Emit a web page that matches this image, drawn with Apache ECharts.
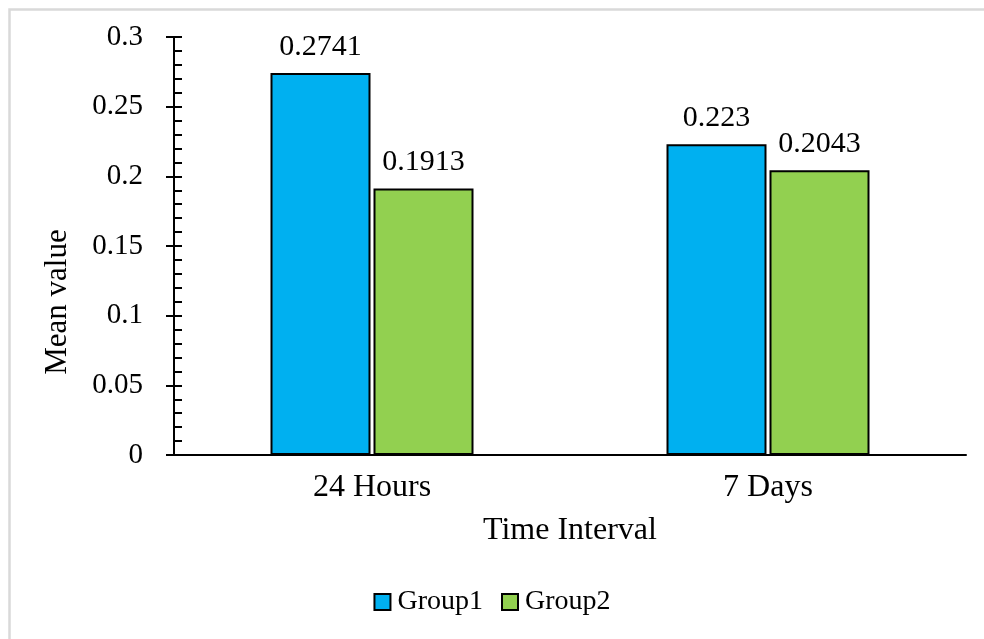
<!DOCTYPE html>
<html>
<head>
<meta charset="utf-8">
<style>
  html, body { margin: 0; padding: 0; background: #ffffff; }
  #chart { width: 984px; height: 639px; }
</style>
<script src="https://cdn.jsdelivr.net/npm/echarts@6/dist/echarts.min.js"></script>
</head>
<body>
<div id="chart"></div>
<script>
// Categories and mean values per group
const categories = ['24 Hours', '7 Days'];
const group1 = [0.2741, 0.223];
const group2 = [0.1913, 0.2043];
const seriesNames = ['Group1', 'Group2'];

const FONT = '"Liberation Serif", "Times New Roman", serif';
const TXT = '#000000';

const chart = echarts.init(document.getElementById('chart'));

const yCommon = {
  type: 'value',
  min: 0,
  max: 0.3,
  interval: 0.05,
  splitLine: { show: false }
};

const barLabel = {
  show: true,
  position: 'top',
  distance: 11,
  color: TXT,
  fontFamily: FONT,
  fontSize: 30
};

chart.setOption({
  backgroundColor: '#ffffff',
  animation: false,
  graphic: [{
    type: 'rect',
    shape: { x: 9.5, y: 9.5, width: 1200, height: 900 },
    style: { fill: 'none', stroke: '#d9d9d9', lineWidth: 2.5 },
    silent: true,
    z: -10
  }],
  grid: { left: 174, right: 18, top: 37, bottom: 184, containLabel: false },
  legend: {
    data: seriesNames,
    bottom: 18,
    left: 'center',
    itemWidth: 16,
    itemHeight: 16,
    itemGap: 18,
    icon: 'rect',
    textStyle: { color: TXT, fontFamily: FONT, fontSize: 28, padding: [0, 0, 0, 2] }
  },
  xAxis: {
    type: 'category',
    data: categories,
    name: 'Time Interval',
    nameLocation: 'middle',
    nameGap: 60,
    nameTextStyle: { color: TXT, fontFamily: FONT, fontSize: 32 },
    axisLine: { lineStyle: { color: '#000', width: 2 } },
    axisTick: { show: false },
    axisLabel: { color: TXT, fontFamily: FONT, fontSize: 32, margin: 17 }
  },
  yAxis: [
    Object.assign({}, yCommon, {
      name: 'Mean value',
      nameLocation: 'middle',
      nameGap: 101,
      nameTextStyle: { color: TXT, fontFamily: FONT, fontSize: 31, padding: [0, 112, 0, 0] },
      axisLine: { show: true, lineStyle: { color: '#000', width: 2 } },
      axisTick: { show: true, inside: false, length: 8, lineStyle: { color: '#000', width: 2 } },
      axisLabel: { color: TXT, fontFamily: FONT, fontSize: 29, margin: 31 }
    }),
    Object.assign({}, yCommon, {
      position: 'left',
      axisLine: { show: false },
      axisTick: { show: true, inside: true, length: 8, lineStyle: { color: '#000', width: 2 } },
      minorTick: { show: true, splitNumber: 5, length: 8, lineStyle: { color: '#000', width: 2 } },
      axisLabel: { show: false }
    })
  ],
  series: [
    {
      name: seriesNames[0],
      type: 'bar',
      data: group1,
      barWidth: 100,
      barGap: '3%',
      itemStyle: { color: '#00B0F0', borderColor: '#000', borderWidth: 2 },
      label: barLabel
    },
    {
      name: seriesNames[1],
      type: 'bar',
      data: group2,
      barWidth: 100,
      itemStyle: { color: '#92D050', borderColor: '#000', borderWidth: 2 },
      label: barLabel
    }
  ]
});
</script>
</body>
</html>
